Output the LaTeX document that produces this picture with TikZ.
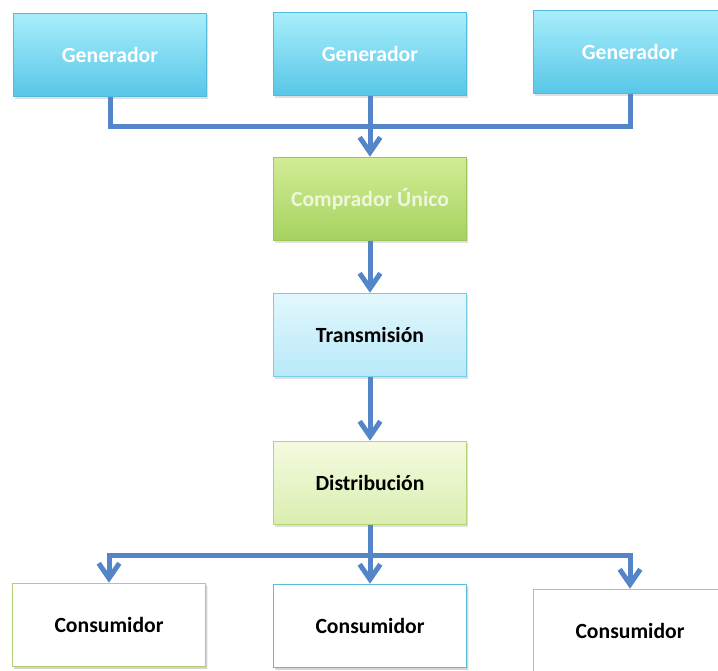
\documentclass[tikz,border=0pt]{standalone}
\usepackage{fontspec}
\setmainfont{Carlito}
\usetikzlibrary{arrows.meta,shadows}
\definecolor{link_blue}{RGB}{84,133,200}
\definecolor{gen_top}{RGB}{168,238,251}
\definecolor{gen_bot}{RGB}{88,198,232}
\definecolor{gen_edge}{RGB}{80,185,220}
\definecolor{buy_top}{RGB}{210,236,150}
\definecolor{buy_bot}{RGB}{165,210,95}
\definecolor{buy_edge}{RGB}{155,198,90}
\definecolor{buy_text}{RGB}{238,246,220}
\definecolor{tra_top}{RGB}{226,247,253}
\definecolor{tra_bot}{RGB}{184,233,248}
\definecolor{tra_edge}{RGB}{120,205,232}
\definecolor{dis_top}{RGB}{244,250,224}
\definecolor{dis_bot}{RGB}{218,238,175}
\definecolor{dis_edge}{RGB}{180,212,120}
\definecolor{con_green}{RGB}{178,204,118}
\definecolor{con_blue}{RGB}{90,190,218}

\begin{document}
\begin{tikzpicture}[x=0.03cm,y=-0.03cm,>={Straight Barb[length=0.45cm,width=0.62cm]}]
    \tikzstyle{box}=[rectangle, minimum width=5.8cm, minimum height=2.5cm, line width=1.1pt, font=\fontsize{18.5}{20}\selectfont\bfseries, drop shadow={opacity=0.25,shadow xshift=0.04cm,shadow yshift=-0.06cm}]
    \tikzstyle{gen}=[style=box, draw=gen_edge, top color=gen_top, bottom color=gen_bot, text=white]
    \tikzstyle{buy}=[style=box, draw=buy_edge, top color=buy_top, bottom color=buy_bot, text=buy_text]
    \tikzstyle{tra}=[style=box, draw=tra_edge, top color=tra_top, bottom color=tra_bot, text=black]
    \tikzstyle{dis}=[style=box, draw=dis_edge, top color=dis_top, bottom color=dis_bot, text=black]
    \tikzstyle{con}=[style=box, fill=white, text=black, drop shadow={opacity=0.12}]
    \tikzstyle{link}=[draw=link_blue, line width=0.15cm]

    \useasboundingbox (0,0) rectangle (718,671);

    \node[gen] (g1) at (110,55)  {Generador};
    \node[gen] (g2) at (370,54)  {Generador};
    \node[gen] (g3) at (630,52)  {Generador};
    \node[buy] (cu) at (370,199) {Comprador Único};
    \node[tra] (tr) at (370,335) {Transmisión};
    \node[dis] (di) at (370,483) {Distribución};
    \node[con,draw=con_green] (c1) at (109,625) {Consumidor};
    \node[con,draw=con_blue]  (c2) at (370,626) {Consumidor};
    \node[con,draw=con_green] (c3) at (630,631) {Consumidor};
    \coordinate (top) at (370,126);
    \coordinate (bot) at (370,555);

    \path[link]
     (g1) |- (top)
     (g3) |- (top)
     ;
    \path[link]
     (g2) edge[->] (cu)
     (cu) edge[->] (tr)
     (tr) edge[->] (di)
     (di) edge    (bot)
     (bot) edge[->] (c2)
     (bot) edge[->,to path={-| (\tikztotarget)}] (c1.north)
     (bot) edge[->,to path={-| (\tikztotarget)}] (c3.north)
     ;
  \end{tikzpicture}
\end{document}
